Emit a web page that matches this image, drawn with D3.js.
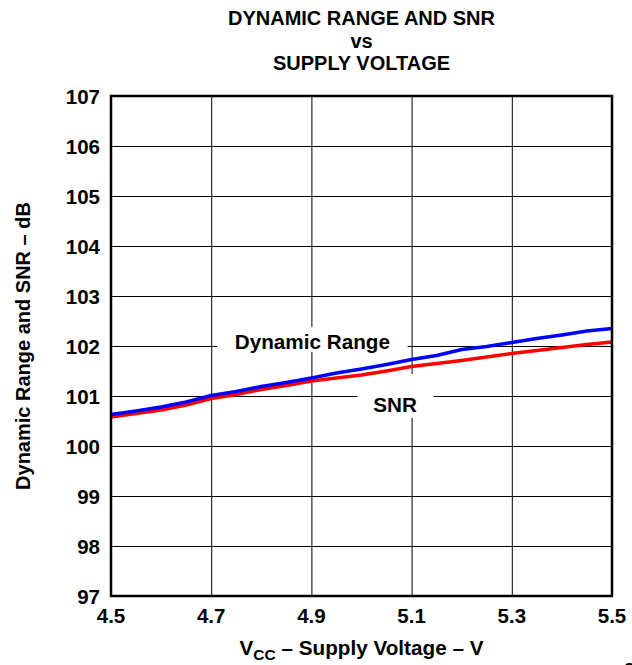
<!DOCTYPE html>
<html>
<head>
<meta charset="utf-8">
<script src="https://cdn.jsdelivr.net/npm/d3@7"></script>
<style>
  body { margin: 0; background: #fff; }
  text { font-family: "Liberation Sans", Arial, sans-serif; font-weight: bold; fill: #000; }
</style>
</head>
<body>
<div id="chart"></div>
<script>
// chart values
var voltage = [4.5, 4.55, 4.6, 4.65, 4.7, 4.75, 4.8, 4.85, 4.9, 4.95, 5.0,
               5.05, 5.1, 5.15, 5.2, 5.25, 5.3, 5.35, 5.4, 5.45, 5.5];
var dynamicRange = [100.63, 100.70, 100.78, 100.88, 101.01, 101.09, 101.19, 101.27, 101.36, 101.46, 101.54,
                    101.63, 101.73, 101.81, 101.93, 101.99, 102.07, 102.15, 102.22, 102.30, 102.35];
var snr = [100.58, 100.65, 100.72, 100.82, 100.95, 101.03, 101.13, 101.21, 101.30, 101.36, 101.42,
           101.50, 101.59, 101.65, 101.71, 101.78, 101.85, 101.91, 101.97, 102.03, 102.08];
var xTicks = [4.5, 4.7, 4.9, 5.1, 5.3, 5.5];
var yTicks = [97, 98, 99, 100, 101, 102, 103, 104, 105, 106, 107];
var titleLines = ["DYNAMIC RANGE AND SNR", "vs", "SUPPLY VOLTAGE"];

var svgWidth = 632;
var svgHeight = 665;

var margin = { top: 96, right: 20, bottom: 69, left: 111 };

var width = svgWidth - margin.left - margin.right;
var height = svgHeight - margin.top - margin.bottom;

var svg = d3.select("#chart")
  .append("svg")
  .attr("width", svgWidth)
  .attr("height", svgHeight);

var chartGroup = svg.append("g")
  .attr("transform", `translate(${margin.left}, ${margin.top})`);

var xScale = d3.scaleLinear().domain([4.5, 5.5]).range([0, width]);
var yScale = d3.scaleLinear().domain([97, 107]).range([height, 0]);

// grid lines
chartGroup.append("g")
  .attr("transform", `translate(0, ${height})`)
  .call(d3.axisBottom(xScale).tickValues(xTicks).tickSize(-height).tickFormat(""))
  .call(g => g.select(".domain").remove())
  .selectAll("line").attr("stroke", "#000").attr("stroke-width", 1);

chartGroup.append("g")
  .call(d3.axisLeft(yScale).tickValues(yTicks).tickSize(-width).tickFormat(""))
  .call(g => g.select(".domain").remove())
  .selectAll("line").attr("stroke", "#000").attr("stroke-width", 1);

// white boxes behind the curve labels
chartGroup.append("rect")
  .attr("x", xScale(4.712)).attr("y", yScale(102.38))
  .attr("width", xScale(5.092) - xScale(4.712))
  .attr("height", yScale(101.88) - yScale(102.38))
  .attr("fill", "#fff");

chartGroup.append("rect")
  .attr("x", xScale(4.992)).attr("y", yScale(101.44))
  .attr("width", xScale(5.144) - xScale(4.992))
  .attr("height", yScale(100.56) - yScale(101.44))
  .attr("fill", "#fff");

// curves
var lineDR = d3.line()
  .x((d, i) => xScale(voltage[i]))
  .y(d => yScale(d));

chartGroup.append("path")
  .datum(snr)
  .attr("d", lineDR)
  .attr("fill", "none")
  .attr("stroke", "#ff0000")
  .attr("stroke-width", 3.5);

chartGroup.append("path")
  .datum(dynamicRange)
  .attr("d", lineDR)
  .attr("fill", "none")
  .attr("stroke", "#0000ff")
  .attr("stroke-width", 3.5);

// frame
chartGroup.append("rect")
  .attr("x", 0).attr("y", 0)
  .attr("width", width).attr("height", height)
  .attr("fill", "none")
  .attr("stroke", "#000")
  .attr("stroke-width", 2.5);

// tick labels
chartGroup.append("g").selectAll("text")
  .data(xTicks)
  .enter()
  .append("text")
  .attr("x", d => xScale(d))
  .attr("y", height + 27)
  .attr("text-anchor", "middle")
  .attr("font-size", "20.5px")
  .text(d => d.toFixed(1));

chartGroup.append("g").selectAll("text")
  .data(yTicks)
  .enter()
  .append("text")
  .attr("x", -11)
  .attr("y", d => yScale(d) + 8)
  .attr("text-anchor", "end")
  .attr("font-size", "20.5px")
  .text(d => d);

// curve labels
chartGroup.append("text")
  .attr("x", xScale(4.902))
  .attr("y", yScale(101.94))
  .attr("text-anchor", "middle")
  .attr("font-size", "20.7px")
  .text("Dynamic Range");

chartGroup.append("text")
  .attr("x", xScale(5.067))
  .attr("y", yScale(100.68))
  .attr("text-anchor", "middle")
  .attr("font-size", "20.7px")
  .text("SNR");

// title
svg.append("g").selectAll("text")
  .data(titleLines)
  .enter()
  .append("text")
  .attr("x", margin.left + width / 2)
  .attr("y", (d, i) => 25 + i * 22.6)
  .attr("text-anchor", "middle")
  .attr("font-size", "20px")
  .text(d => d);

// axis titles
var xTitle = svg.append("text")
  .attr("x", margin.left + width / 2)
  .attr("y", 655)
  .attr("text-anchor", "middle")
  .attr("font-size", "20.7px");
xTitle.append("tspan").text("V");
xTitle.append("tspan").attr("font-size", "15.5px").attr("dy", 5).text("CC");
xTitle.append("tspan").attr("dy", -5).text(" \u2013 Supply Voltage \u2013 V");

svg.append("text")
  .attr("transform", `translate(30, ${margin.top + height / 2}) rotate(-90)`)
  .attr("text-anchor", "middle")
  .attr("font-size", "20px")
  .text("Dynamic Range and SNR \u2013 dB");

// figure id, cut off at the page edge as in the reference
svg.append("text")
  .attr("x", 624)
  .attr("y", 673)
  .attr("font-size", "14px")
  .attr("font-weight", "normal")
  .text("G");
</script>
</body>
</html>
